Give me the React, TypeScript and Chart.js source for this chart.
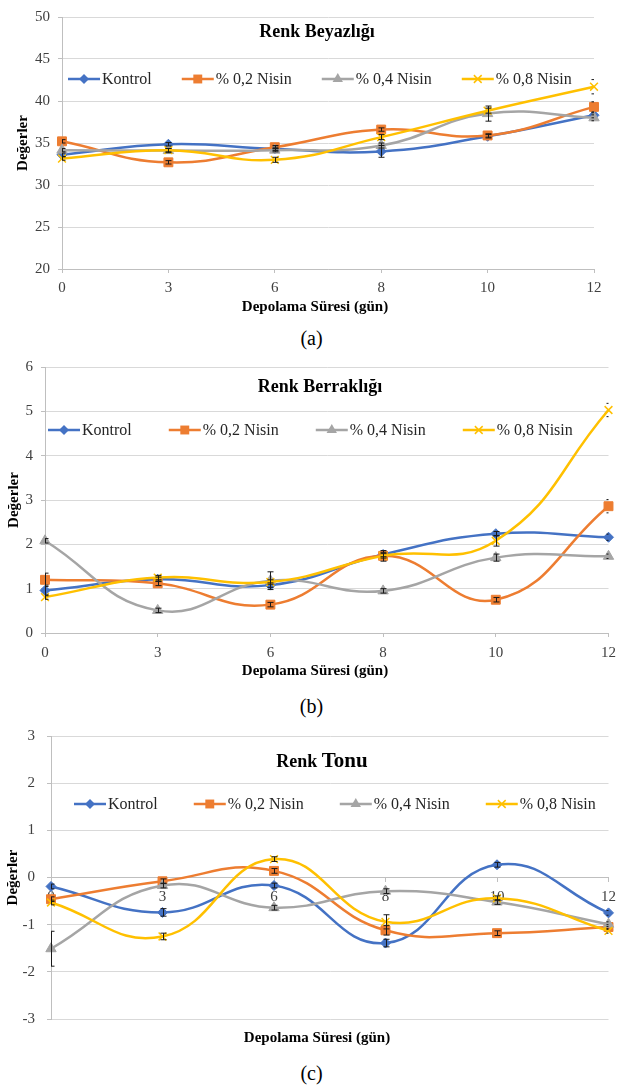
import React, { useEffect, useRef } from 'react';
import { Chart, registerables } from 'chart.js';

Chart.register(...registerables);

const FONT = "'Liberation Serif', 'Times New Roman', Times, serif";
Chart.defaults.font.family = FONT;
Chart.defaults.color = '#404040';

// ---------- data ----------
const days = ['0', '3', '6', '8', '10', '12'];
const seriesLabels = ['Kontrol', '% 0,2 Nisin', '% 0,4 Nisin', '% 0,8 Nisin'];

// (a) Renk Beyazlığı
const beyazlikKontrol = [33.6, 34.85, 34.3, 34.0, 35.8, 38.3];
const beyazlikNisin02 = [35.2, 32.7, 34.5, 36.6, 35.9, 39.3];
const beyazlikNisin04 = [34.15, 34.1, 34.15, 34.7, 38.5, 38.0];
const beyazlikNisin08 = [33.15, 34.15, 33.0, 35.7, 38.85, 41.7];
const beyazlikErrKontrol = [0.2, 0.2, 0.2, 0.7, 0.2, 0.3];
const beyazlikErrNisin02 = [0.2, 0.2, 0.2, 0.2, 0.2, 0.6];
const beyazlikErrNisin04 = [0.2, 0.25, 0.2, 0.3, 0.9, 0.35];
const beyazlikErrNisin08 = [0.2, 0.2, 0.3, 0.3, 0.3, 0.85];
const beyazlikYTicks = [20, 25, 30, 35, 40, 45, 50];

// (b) Renk Berraklığı
const berraklikKontrol = [0.96, 1.21, 1.08, 1.77, 2.24, 2.16];
const berraklikNisin02 = [1.2, 1.12, 0.64, 1.74, 0.75, 2.86];
const berraklikNisin04 = [2.08, 0.51, 1.18, 0.95, 1.7, 1.73];
const berraklikNisin08 = [0.81, 1.25, 1.15, 1.74, 2.08, 5.03];
const berraklikErrKontrol = [0.12, 0.05, 0.05, 0.05, 0.05, 0.07];
const berraklikErrNisin02 = [0.15, 0.05, 0.05, 0.12, 0.05, 0.15];
const berraklikErrNisin04 = [0.05, 0.05, 0.2, 0.05, 0.08, 0.05];
const berraklikErrNisin08 = [0.05, 0.05, 0.05, 0.05, 0.12, 0.15];
const berraklikYTicks = [0, 1, 2, 3, 4, 5, 6];

// (c) Renk Tonu
const tonKontrol = [-0.19, -0.74, -0.17, -1.39, 0.27, -0.75];
const tonNisin02 = [-0.46, -0.08, 0.14, -1.12, -1.18, -1.05];
const tonNisin04 = [-1.51, -0.17, -0.64, -0.29, -0.52, -0.99];
const tonNisin08 = [-0.53, -1.25, 0.39, -0.94, -0.44, -1.13];
const tonErrKontrol = [0.05, 0.08, 0.05, 0.08, 0.05, 0.05];
const tonErrNisin02 = [0.05, 0.05, 0.05, 0.1, 0.05, 0.05];
const tonErrNisin04 = [0.37, 0.05, 0.05, 0.05, 0.05, 0.05];
const tonErrNisin08 = [0.05, 0.07, 0.05, 0.15, 0.05, 0.05];
const tonYTicks = [-3, -2, -1, 0, 1, 2, 3];

const xTitleText = 'Depolama Süresi (gün)';
const yTitleText = 'Değerler';

// ---------- styles ----------
const COLORS = ['#4472C4', '#ED7D31', '#A5A5A5', '#FFC000'];
const POINT_STYLES = ['rectRot', 'rect', 'triangle', 'crossRot'];
const POINT_RADII = [5, 6.3, 6, 5.5];

type TitlePart = { text: string; size: number };
type Panel = {
  values: number[][];
  errors: number[][];
  yTicks: number[];
  top: number;
  height: number;
  left: number;
  right: number;
  padTop: number;
  padBottom: number;
  xAxisHeight: number;
  xAtZero: boolean;
  xTickPad: number;
  yTickPad: number;
  yTitlePad: number;
  titleParts: TitlePart[];
  titleX: number;
  titleY: number;
  legendX: number;
  legendY: number;
  legendGap: number;
  xTitleX: number;
  xTitleY: number;
  caption: string;
  captionY: number;
};

const WIDTH = 623;

const panels: Panel[] = [
  {
    values: [beyazlikKontrol, beyazlikNisin02, beyazlikNisin04, beyazlikNisin08],
    errors: [beyazlikErrKontrol, beyazlikErrNisin02, beyazlikErrNisin04, beyazlikErrNisin08],
    yTicks: beyazlikYTicks,
    top: 0, height: 320, left: 62, right: 594, padTop: 10, padBottom: 0, xAxisHeight: 51,
    xAtZero: false, xTickPad: 6, yTickPad: 8, yTitlePad: 14,
    titleParts: [{ text: 'Renk Beyazlığı', size: 18 }],
    titleX: 317, titleY: 32, legendX: 68, legendY: 79, legendGap: 30,
    xTitleX: 315, xTitleY: 307, caption: '(a)', captionY: 338,
  },
  {
    values: [berraklikKontrol, berraklikNisin02, berraklikNisin04, berraklikNisin08],
    errors: [berraklikErrKontrol, berraklikErrNisin02, berraklikErrNisin04, berraklikErrNisin08],
    yTicks: berraklikYTicks,
    top: 350, height: 340, left: 45, right: 609, padTop: 13, padBottom: 0, xAxisHeight: 57,
    xAtZero: false, xTickPad: 7, yTickPad: 8, yTitlePad: 5,
    titleParts: [{ text: 'Renk Berraklığı', size: 18 }],
    titleX: 320, titleY: 37, legendX: 48, legendY: 80, legendGap: 37,
    xTitleX: 315, xTitleY: 321, caption: '(b)', captionY: 706,
  },
  {
    values: [tonKontrol, tonNisin02, tonNisin04, tonNisin08],
    errors: [tonErrKontrol, tonErrNisin02, tonErrNisin04, tonErrNisin08],
    yTicks: tonYTicks,
    top: 715, height: 340, left: 51, right: 611, padTop: 14, padBottom: 36, xAxisHeight: 0,
    xAtZero: true, xTickPad: 7, yTickPad: 12, yTitlePad: 4,
    titleParts: [{ text: 'Renk ', size: 18 }, { text: 'Tonu', size: 21 }],
    titleX: 322, titleY: 47, legendX: 74, legendY: 89, legendGap: 36,
    xTitleX: 317, xTitleY: 323, caption: '(c)', captionY: 1073,
  },
];

// ---------- helpers ----------
function drawMarker(ctx: CanvasRenderingContext2D, style: string, x: number, y: number, r: number, color: string) {
  ctx.save();
  ctx.fillStyle = color;
  ctx.strokeStyle = color;
  ctx.lineWidth = 1.5;
  ctx.beginPath();
  if (style === 'rectRot') {
    ctx.moveTo(x, y - r);
    ctx.lineTo(x + r, y);
    ctx.lineTo(x, y + r);
    ctx.lineTo(x - r, y);
    ctx.closePath();
    ctx.fill();
  } else if (style === 'rect') {
    const s = r * Math.SQRT1_2;
    ctx.rect(x - s, y - s, 2 * s, 2 * s);
    ctx.fill();
  } else if (style === 'triangle') {
    const h = r * 1.5;
    const w = r * Math.sqrt(3) / 2;
    ctx.moveTo(x, y - r);
    ctx.lineTo(x + w, y + h - r);
    ctx.lineTo(x - w, y + h - r);
    ctx.closePath();
    ctx.fill();
  } else {
    const s = r * Math.SQRT1_2;
    ctx.moveTo(x - s, y - s);
    ctx.lineTo(x + s, y + s);
    ctx.moveTo(x + s, y - s);
    ctx.lineTo(x - s, y + s);
    ctx.stroke();
  }
  ctx.restore();
}

function makeErrorBarPlugin() {
  return {
    id: 'errorBars',
    afterDatasetsDraw(chart: any) {
      const ctx: CanvasRenderingContext2D = chart.ctx;
      const ca = chart.chartArea;
      const yScale = chart.scales.y;
      ctx.save();
      ctx.beginPath();
      ctx.rect(ca.left, ca.top - 20, ca.right - ca.left, ca.bottom - ca.top + 40);
      ctx.clip();
      ctx.strokeStyle = '#1a1a1a';
      ctx.lineWidth = 1;
      chart.data.datasets.forEach((ds: any, i: number) => {
        const meta = chart.getDatasetMeta(i);
        (ds.errors || []).forEach((e: number, j: number) => {
          if (!e) return;
          const v = ds.data[j];
          const pt = meta.data[j];
          if (!pt) return;
          const x = Math.round(pt.x) + 0.5;
          const yTop = yScale.getPixelForValue(v + e);
          const yBot = yScale.getPixelForValue(v - e);
          ctx.beginPath();
          ctx.moveTo(x, yTop);
          ctx.lineTo(x, yBot);
          ctx.moveTo(x - 3, yTop);
          ctx.lineTo(x + 3, yTop);
          ctx.moveTo(x - 3, yBot);
          ctx.lineTo(x + 3, yBot);
          ctx.stroke();
        });
      });
      ctx.restore();
    },
  };
}

function makeOverlayPlugin(p: Panel) {
  return {
    id: 'overlay',
    afterDraw(chart: any) {
      const ctx: CanvasRenderingContext2D = chart.ctx;
      ctx.save();
      // chart title (inside plot area)
      ctx.fillStyle = '#000000';
      ctx.textBaseline = 'middle';
      ctx.textAlign = 'left';
      let total = 0;
      p.titleParts.forEach((tp) => {
        ctx.font = `bold ${tp.size}px ${FONT}`;
        total += ctx.measureText(tp.text).width;
      });
      let tx = p.titleX - total / 2;
      p.titleParts.forEach((tp) => {
        ctx.font = `bold ${tp.size}px ${FONT}`;
        ctx.fillText(tp.text, tx, p.titleY);
        tx += ctx.measureText(tp.text).width;
      });
      // legend (inside plot area)
      ctx.font = `16px ${FONT}`;
      let x = p.legendX;
      const y = p.legendY;
      const lineLen = 32;
      chart.data.datasets.forEach((ds: any) => {
        ctx.strokeStyle = ds.borderColor;
        ctx.lineWidth = 2.5;
        ctx.beginPath();
        ctx.moveTo(x, y);
        ctx.lineTo(x + lineLen, y);
        ctx.stroke();
        drawMarker(ctx, ds.pointStyle, x + lineLen / 2, y, ds.pointRadius, ds.borderColor);
        ctx.fillStyle = '#262626';
        ctx.textAlign = 'left';
        ctx.fillText(ds.label, x + lineLen + 2, y + 1);
        x += lineLen + 2 + ctx.measureText(ds.label).width + p.legendGap;
      });
      // x-axis title
      ctx.font = `bold 15px ${FONT}`;
      ctx.fillStyle = '#000000';
      ctx.textAlign = 'center';
      ctx.fillText(xTitleText, p.xTitleX, p.xTitleY);
      ctx.restore();
    },
  };
}

function buildConfig(p: Panel): any {
  const yMin = p.yTicks[0];
  const yMax = p.yTicks[p.yTicks.length - 1];
  const step = p.yTicks[1] - p.yTicks[0];
  return {
    type: 'line',
    data: {
      labels: days,
      datasets: p.values.map((vals, i) => ({
        label: seriesLabels[i],
        data: vals,
        errors: p.errors[i],
        borderColor: COLORS[i],
        backgroundColor: COLORS[i],
        pointStyle: POINT_STYLES[i],
        pointRadius: POINT_RADII[i],
        pointBorderWidth: i === 3 ? 1.5 : 1,
        borderWidth: 2.5,
        tension: 0.45,
        fill: false,
        clip: false,
        order: 3 - i,
      })),
    },
    options: {
      responsive: false,
      animation: false,
      devicePixelRatio: 1,
      layout: {
        padding: { top: p.padTop, right: WIDTH - p.right, bottom: p.padBottom, left: 0 },
      },
      plugins: {
        legend: { display: false },
        title: { display: false },
        tooltip: { enabled: false },
      },
      scales: {
        x: {
          type: 'category',
          position: p.xAtZero ? { y: 0 } : 'bottom',
          grid: {
            drawOnChartArea: false,
            drawTicks: true,
            tickLength: 4,
            color: '#bfbfbf',
            tickColor: '#bfbfbf',
          },
          border: { color: '#bfbfbf', width: 1 },
          ticks: {
            padding: p.xTickPad,
            color: '#404040',
            font: { size: 15 },
            maxRotation: 0,
            autoSkip: false,
          },
          afterFit: p.xAtZero
            ? undefined
            : (s: any) => {
                s.height = p.xAxisHeight;
              },
        },
        y: {
          type: 'linear',
          min: yMin,
          max: yMax,
          ticks: {
            stepSize: step,
            padding: p.yTickPad,
            color: '#404040',
            font: { size: 15 },
          },
          grid: {
            color: '#d9d9d9',
            tickColor: '#bfbfbf',
            tickLength: 4,
            drawTicks: true,
          },
          border: { color: '#bfbfbf', width: 1 },
          title: {
            display: true,
            text: yTitleText,
            color: '#000000',
            font: { size: 15, weight: 'bold' },
            padding: { top: p.yTitlePad, bottom: 0 },
          },
          afterFit: (s: any) => {
            s.width = p.left;
          },
        },
      },
    },
    plugins: [makeErrorBarPlugin(), makeOverlayPlugin(p)],
  };
}

function ChartPanel({ panel }: { panel: Panel }) {
  const ref = useRef<HTMLCanvasElement | null>(null);
  useEffect(() => {
    if (!ref.current) return;
    const chart = new Chart(ref.current, buildConfig(panel));
    return () => chart.destroy();
  }, [panel]);
  return (
    <>
      <canvas
        ref={ref}
        width={WIDTH}
        height={panel.height}
        style={{ position: 'absolute', left: 0, top: panel.top, width: WIDTH, height: panel.height }}
      />
      <div
        style={{
          position: 'absolute',
          left: 0,
          width: WIDTH,
          top: panel.captionY - 12,
          height: 24,
          lineHeight: '24px',
          textAlign: 'center',
          fontFamily: FONT,
          fontSize: 20,
          color: '#000',
        }}
      >
        {panel.caption}
      </div>
    </>
  );
}

export default function App() {
  return (
    <div style={{ position: 'absolute', left: 0, top: 0, width: WIDTH, height: 1088, background: '#fff' }}>
      {panels.map((p) => (
        <ChartPanel key={p.caption} panel={p} />
      ))}
    </div>
  );
}
